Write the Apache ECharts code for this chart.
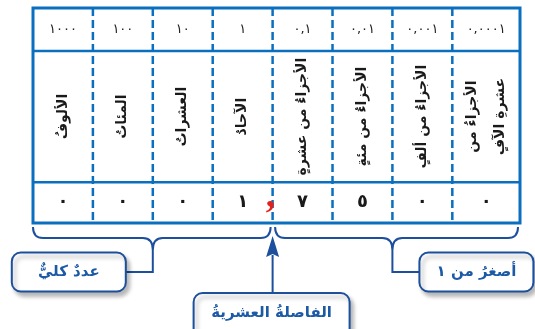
<!DOCTYPE html>
<html><head><meta charset="utf-8">
<script src="https://cdn.jsdelivr.net/npm/echarts/dist/echarts.min.js"></script>
<style>html,body{margin:0;padding:0;background:#fff}#c{width:535px;height:329px}</style>
</head><body><div id="c"></div>
<script>
// ---- data ----
const placeNames = ['الألوفُ', 'المئاتُ', 'العشراتُ', 'الآحادُ', 'الأجزاءُ من عشرةٍ', 'الأجزاءُ من مئةٍ', 'الأجزاءُ من ألفٍ', 'الأجزاءُ من\nعشرةِ الآفٍ'];
const placeValues = ['١٠٠٠', '١٠٠', '١٠', '١', '٠,١', '٠,٠١', '٠,٠٠١', '٠,٠٠٠١'];
const digitValues = ['٠', '٠', '٠', '١', '٧', '٥', '٠', '٠'];
const groupLabels = ['عددٌ كليٌّ', 'أصغرُ من ١'];
const groupRanges = [[0, 4], [4, 8]];
const decimalPointLabel = 'الفاصلةُ العشريةُ';
const decimalPointAfter = 4;

// ---- layout ----
const columnWeights = [1, 1, 1, 1, 1, 1, 1, 1.13];
const rowEdges = [0, 1, 4.05, 5];
const edges = [0];
columnWeights.forEach(w => edges.push(edges[edges.length - 1] + w));
const totalCols = edges[edges.length - 1];

const TABLE = '#0b6fbf';
const DARK = '#1c4f9c';
const LABEL = '#1d5aa6';
const FONT = '"DejaVu Sans", sans-serif';

const chart = echarts.init(document.getElementById('c'), null, {renderer: 'canvas'});

function yAt(api, r) { return api.coord([0, r])[1]; }

const columnSeries = {
  type: 'custom',
  coordinateSystem: 'cartesian2d',
  clip: false,
  data: placeNames.map((n, i) => [edges[i], edges[i + 1], i]),
  renderItem(params, api) {
    const i = api.value(2);
    const x0 = api.coord([api.value(0), 0])[0];
    const x1 = api.coord([api.value(1), 0])[0];
    const cx = (x0 + x1) / 2;
    const ys = rowEdges.map(r => yAt(api, r));
    const children = [];
    if (i > 0) {
      children.push({type: 'line', shape: {x1: x0, y1: ys[0], x2: x0, y2: ys[3]},
        style: {stroke: TABLE, lineWidth: 2.5, lineDash: [8, 4]}});
    }
    children.push({type: 'text', x: cx, y: (ys[0] + ys[1]) / 2,
      style: {text: placeValues[i], font: '13px ' + FONT, fill: '#222', align: 'center', verticalAlign: 'middle'}});
    children.push({type: 'text', x: cx, y: (ys[1] + ys[2]) / 2, rotation: Math.PI / 2,
      style: {text: placeNames[i], font: 'bold 14px ' + FONT, fill: '#1a1a1a', align: 'center', verticalAlign: 'middle', lineHeight: 28}});
    children.push({type: 'text', x: cx, y: (ys[2] + ys[3]) / 2,
      style: {text: digitValues[i], font: 'bold 18px ' + FONT, fill: '#1a1a1a', align: 'center', verticalAlign: 'middle'}});
    return {type: 'group', children};
  }
};

const frameSeries = {
  type: 'custom',
  coordinateSystem: 'cartesian2d',
  clip: false,
  data: [[0, totalCols]],
  renderItem(params, api) {
    const x0 = api.coord([api.value(0), 0])[0];
    const x1 = api.coord([api.value(1), 0])[0];
    const ys = rowEdges.map(r => yAt(api, r));
    return {type: 'group', children: [
      {type: 'line', shape: {x1: x0, y1: ys[1], x2: x1, y2: ys[1]}, style: {stroke: TABLE, lineWidth: 2.5}},
      {type: 'line', shape: {x1: x0, y1: ys[2], x2: x1, y2: ys[2]}, style: {stroke: TABLE, lineWidth: 2.5}},
      {type: 'rect', shape: {x: x0, y: ys[0], width: x1 - x0, height: ys[3] - ys[0]},
        style: {stroke: TABLE, lineWidth: 3, fill: null}}
    ]};
  }
};

function boxShape(x, y, w, h, label, fontSize) {
  return [
    {type: 'rect', shape: {x, y, width: w, height: h, r: 9},
      style: {fill: '#fff', stroke: DARK, lineWidth: 2, shadowBlur: 4, shadowOffsetX: 3, shadowOffsetY: 4, shadowColor: 'rgba(0,0,0,0.28)'}},
    {type: 'text', x: x + w / 2, y: Math.min(y + h / 2, y + 20), z2: 5,
      style: {text: label, font: 'bold ' + fontSize + 'px ' + FONT, fill: LABEL, align: 'center', verticalAlign: 'middle'}}
  ];
}

const groupSeries = {
  type: 'custom',
  coordinateSystem: 'cartesian2d',
  clip: false,
  data: groupRanges.map((g, k) => [edges[g[0]], edges[g[1]], edges[(g[0] + g[1]) / 2], k]),
  renderItem(params, api) {
    const k = api.value(3);
    const bottom = yAt(api, rowEdges[3]);
    let x1 = api.coord([api.value(0), 0])[0];
    let x2 = api.coord([api.value(1), 0])[0];
    const xm = api.coord([api.value(2), 0])[0];
    if (k > 0) x1 += 2.5;
    x2 -= 2;
    const yTop = bottom + 4, yMid = bottom + 15, yTip = bottom + 27, r = 10;
    const yLine = bottom + 49;
    const path = `M${x1},${yTop} Q${x1},${yMid} ${x1 + r},${yMid} L${xm - r},${yMid} Q${xm},${yMid} ${xm},${yTip} ` +
      `Q${xm},${yMid} ${xm + r},${yMid} L${x2 - r},${yMid} Q${x2},${yMid} ${x2},${yTop}`;
    const bw = 114, bh = 39, gap = 27;
    const bx = k === 0 ? xm - gap - bw : xm + gap;
    const edgeX = k === 0 ? xm - gap : xm + gap;
    const children = [
      {type: 'path', shape: {pathData: path}, style: {stroke: DARK, lineWidth: 2, fill: null}},
      {type: 'polyline', shape: {points: [[xm, yTip], [xm, yLine], [edgeX, yLine]]}, style: {stroke: DARK, lineWidth: 2, fill: null}}
    ].concat(boxShape(bx, yLine - bh / 2, bw, bh, groupLabels[k], 15));
    return {type: 'group', children};
  }
};

const pointSeries = {
  type: 'custom',
  coordinateSystem: 'cartesian2d',
  clip: false,
  data: [[edges[decimalPointAfter]]],
  renderItem(params, api) {
    const x = api.coord([api.value(0), 0])[0];
    const ys = rowEdges.map(r => yAt(api, r));
    const bottom = ys[3];
    const tip = bottom + 13, head = bottom + 34, boxTop = bottom + 70;
    const bw = 156;
    return {type: 'group', children: [
      {type: 'text', x: x - 2, y: (ys[2] + ys[3]) / 2 - 5, z2: 10,
        style: {text: ',', font: 'bold 38px "Liberation Serif", serif', fill: '#e3201b', align: 'center', verticalAlign: 'middle'}},
      {type: 'line', shape: {x1: x, y1: head - 2, x2: x, y2: boxTop}, style: {stroke: DARK, lineWidth: 2}},
      {type: 'polygon', shape: {points: [[x, tip], [x + 6.5, head], [x, head - 3], [x - 6.5, head]]}, style: {fill: DARK}}
    ].concat(boxShape(x - 1 - bw / 2, boxTop, bw, 50, decimalPointLabel, 15))};
  }
};

chart.setOption({
  animation: false,
  grid: {left: 33, top: 8, width: 487, height: 215},
  xAxis: {type: 'value', min: 0, max: totalCols, show: false},
  yAxis: {type: 'value', min: 0, max: rowEdges[3], inverse: true, show: false},
  series: [columnSeries, frameSeries, groupSeries, pointSeries]
});
</script></body></html>
